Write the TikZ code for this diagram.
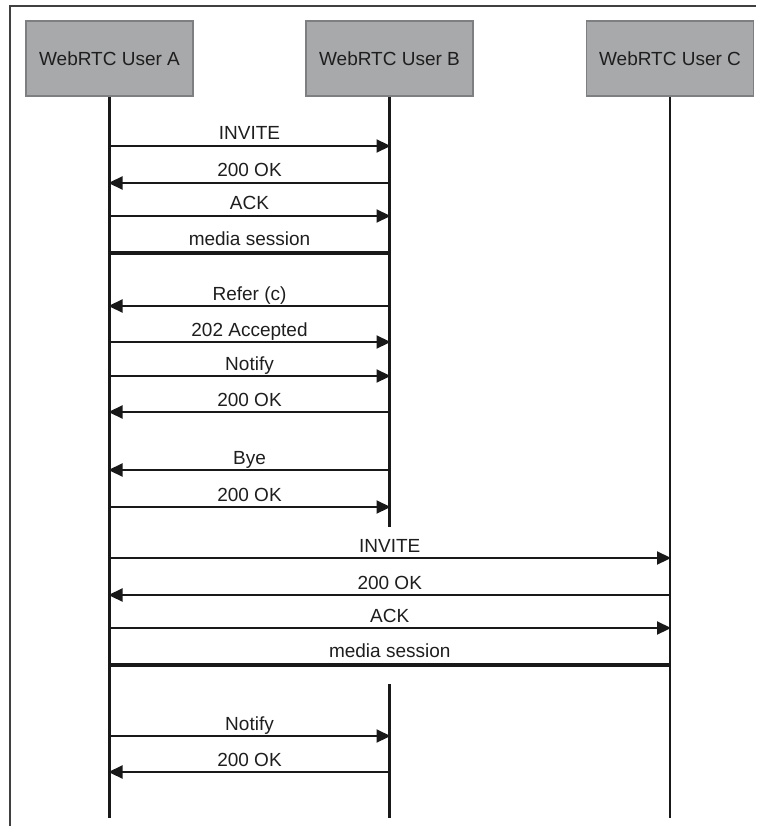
\documentclass[tikz,border=0pt]{standalone}
\usepackage{fontspec}
\setmainfont{Liberation Sans}
\usetikzlibrary{arrows.meta}
\definecolor{boxfill}{HTML}{A8A9AB}
\definecolor{boxline}{HTML}{7E7F81}
\definecolor{txt}{HTML}{1E1E1E}
\tikzset{
  actor/.style={draw=boxline, line width=1.2pt, fill=boxfill, minimum width=167pt, minimum height=75pt, inner sep=0pt, text=txt, font=\fontsize{19}{22}\selectfont},
  lifeline/.style={line width=2.2pt, draw=black!90},
  msg/.style={line width=2.2pt, draw=black!90, -{Triangle[length=14pt,width=13pt]}, shorten >=-1pt},
  sess/.style={line width=3.2pt, draw=black!90},
  lbl/.style={anchor=base, text=txt, font=\fontsize{19}{22}\selectfont, inner sep=0pt}
}
\begin{document}
\begin{tikzpicture}[x=1pt,y=-1pt]
\useasboundingbox (0,0) rectangle (756,826);
\draw[line width=1.5pt, draw=black!75] (10,826) -- (10,6) -- (756,6);
\node[actor] (A) at (109.5,58.5) {WebRTC User A};
\node[actor] (B) at (389.5,58.5) {WebRTC User B};
\node[actor] (C) at (670,58.5) {WebRTC User C};
\coordinate (Aend) at (109.5,818);
\coordinate (Bend1) at (389.5,527);
\coordinate (Bstart2) at (389.5,684);
\coordinate (Bend2) at (389.5,818);
\coordinate (Cend) at (670,818);
\draw[lifeline] (A.south) -- (Aend);
\draw[lifeline] (B.south) -- (Bend1);
\draw[lifeline] (Bstart2) -- (Bend2);
\draw[lifeline] (C.south) -- (Cend);
% A <-> B
\draw[msg] (A |- 0,146) -- node[lbl, yshift=6pt]{INVITE} (B |- 0,146);
\draw[msg] (B |- 0,183) -- node[lbl, yshift=6pt]{200 OK} (A |- 0,183);
\draw[msg] (A |- 0,216) -- node[lbl, yshift=6pt]{ACK} (B |- 0,216);
\draw[sess] (A |- 0,253) -- node[lbl, yshift=8pt]{media session} (B |- 0,253);
\draw[msg] (B |- 0,306) -- node[lbl, yshift=6pt]{Refer (c)} (A |- 0,306);
\draw[msg] (A |- 0,342) -- node[lbl, yshift=6pt]{202 Accepted} (B |- 0,342);
\draw[msg] (A |- 0,376) -- node[lbl, yshift=6pt]{Notify} (B |- 0,376);
\draw[msg] (B |- 0,412) -- node[lbl, yshift=6pt]{200 OK} (A |- 0,412);
\draw[msg] (B |- 0,470) -- node[lbl, yshift=6pt]{Bye} (A |- 0,470);
\draw[msg] (A |- 0,507) -- node[lbl, yshift=6pt]{200 OK} (B |- 0,507);
% A <-> C
\draw[msg] (A |- 0,558) -- node[lbl, yshift=6pt]{INVITE} (C |- 0,558);
\draw[msg] (C |- 0,595) -- node[lbl, yshift=6pt]{200 OK} (A |- 0,595);
\draw[msg] (A |- 0,628) -- node[lbl, yshift=6pt]{ACK} (C |- 0,628);
\draw[sess] (A |- 0,665) -- node[lbl, yshift=8pt]{media session} (C |- 0,665);
% A <-> B again
\draw[msg] (A |- 0,736) -- node[lbl, yshift=6pt]{Notify} (B |- 0,736);
\draw[msg] (B |- 0,772) -- node[lbl, yshift=6pt]{200 OK} (A |- 0,772);
\end{tikzpicture}
\end{document}
